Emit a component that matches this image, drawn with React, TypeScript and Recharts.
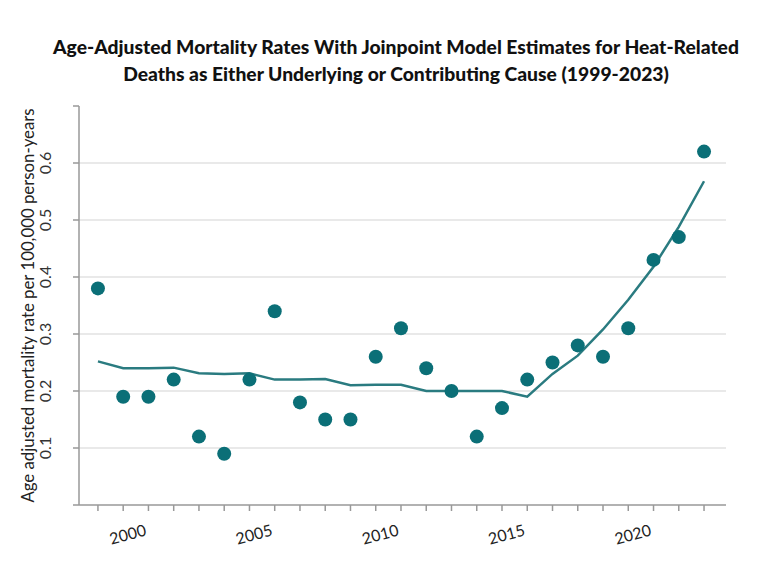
import { CartesianGrid, ComposedChart, Line, Scatter, XAxis, YAxis, Label } from 'recharts';

const years = [
  1999, 2000, 2001, 2002, 2003, 2004, 2005, 2006, 2007, 2008, 2009, 2010, 2011,
  2012, 2013, 2014, 2015, 2016, 2017, 2018, 2019, 2020, 2021, 2022, 2023,
];
const observedRates = [
  0.38, 0.19, 0.19, 0.22, 0.12, 0.09, 0.22, 0.34, 0.18, 0.15, 0.15, 0.26, 0.31,
  0.24, 0.2, 0.12, 0.17, 0.22, 0.25, 0.28, 0.26, 0.31, 0.43, 0.47, 0.62,
];
const modelRates = [
  0.252, 0.24, 0.24, 0.241, 0.231, 0.23, 0.231, 0.22, 0.22, 0.221, 0.21, 0.211, 0.211,
  0.2, 0.2, 0.2, 0.2, 0.19, 0.23, 0.262, 0.308, 0.36, 0.418, 0.488, 0.568,
];
const yTicks = [0, 0.1, 0.2, 0.3, 0.4, 0.5, 0.6, 0.7];
const gridValues = [0.1, 0.2, 0.3, 0.4, 0.5, 0.6];
const labeledYears = [2000, 2005, 2010, 2015, 2020];

const data = years.map((year, i) => ({ year, rate: observedRates[i], model: modelRates[i] }));

const FONT = 'Lato, "Noto Sans", sans-serif';
const TEAL = '#0b6f77';
const LINE = '#2a7b80';

function XTick({ x, y, payload }: any) {
  if (!labeledYears.includes(payload.value)) return null;
  const cx = x + 5;
  const cy = y + 23;
  return (
    <text
      x={cx}
      y={cy}
      textAnchor="middle"
      dominantBaseline="middle"
      fontSize={16}
      fill="#222"
      fontFamily={FONT}
      transform={`rotate(-15 ${cx} ${cy})`}
    >
      {payload.value}
    </text>
  );
}

function YTick({ y, payload }: any) {
  const v = payload.value;
  if (v === 0 || v === 0.7) return null;
  const cx = 47;
  return (
    <text
      x={cx}
      y={y}
      textAnchor="middle"
      dominantBaseline="middle"
      fontSize={16}
      fill="#333"
      fontFamily={FONT}
      transform={`rotate(-90 ${cx} ${y})`}
    >
      {v.toFixed(1)}
    </text>
  );
}

export default function App() {
  return (
    <div style={{ position: 'absolute', left: 0, top: 0, width: 766, height: 574, background: '#fff' }}>
      <div
        style={{
          position: 'absolute',
          left: 0,
          top: 33,
          width: 792,
          textAlign: 'center',
          fontFamily: FONT,
          fontWeight: 900,
          fontSize: 19.3,
          lineHeight: '27px',
          color: '#111',
        }}
      >
        Age-Adjusted Mortality Rates With Joinpoint Model Estimates for Heat-Related
        <br />
        Deaths as Either Underlying or Contributing Cause (1999-2023)
      </div>
      <ComposedChart
        width={766}
        height={574}
        data={data}
        margin={{ top: 106, right: 40, bottom: 29, left: 0 }}
      >
        <CartesianGrid
          horizontal
          vertical={false}
          horizontalValues={gridValues}
          stroke="#e2e2e2"
          strokeWidth={1.5}
        />
        <XAxis
          dataKey="year"
          type="number"
          domain={[1998.25, 2023.87]}
          ticks={years}
          interval={0}
          tick={<XTick />}
          tickSize={6}
          height={40}
          stroke="#999"
          strokeWidth={1.5}
          allowDataOverflow
        />
        <YAxis
          type="number"
          domain={[0, 0.7]}
          ticks={yTicks}
          interval={0}
          tick={<YTick />}
          tickSize={6}
          width={79}
          stroke="#999"
          strokeWidth={1.5}
        >
          <Label
            content={({ viewBox }: any) => {
              const cx = 30;
              const cy = viewBox.y + viewBox.height / 2;
              return (
                <text
                  x={cx}
                  y={cy}
                  textAnchor="middle"
                  dominantBaseline="middle"
                  fontSize={16.8}
                  fill="#222"
                  fontFamily={FONT}
                  transform={`rotate(-90 ${cx} ${cy})`}
                >
                  Age adjusted mortality rate per 100,000 person-years
                </text>
              );
            }}
          />
        </YAxis>
        <Line
          dataKey="model"
          type="linear"
          stroke={LINE}
          strokeWidth={2.5}
          dot={false}
          activeDot={false}
          isAnimationActive={false}
        />
        <Scatter
          dataKey="rate"
          fill={TEAL}
          shape={(p: any) => <circle cx={p.cx} cy={p.cy} r={7} fill={TEAL} />}
          isAnimationActive={false}
        />
      </ComposedChart>
    </div>
  );
}
